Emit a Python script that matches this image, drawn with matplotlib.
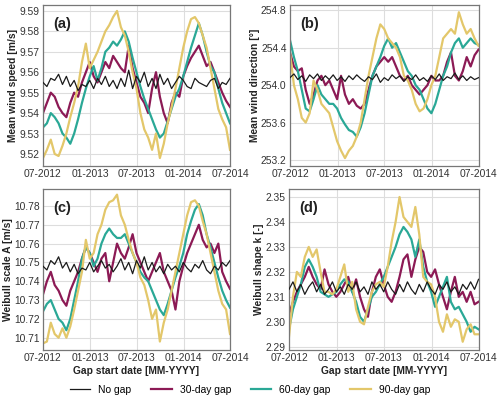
import numpy as np
import pandas as pd
import matplotlib
matplotlib.use("Agg")
import matplotlib.pyplot as plt
import matplotlib.dates as mdates

plt.rcParams['font.family'] = ['Liberation Sans', 'DejaVu Sans']

series_names = ["No gap", "30-day gap", "60-day gap", "90-day gap"]
colors = ["#1a1a1a", "#8c1a55", "#2aa896", "#e3c76a"]
widths = [0.9, 1.6, 1.6, 1.6]

# (a) Mean wind speed
black_a = [9.555, 9.553, 9.557, 9.556, 9.559, 9.554, 9.558, 9.553, 9.556, 9.551, 9.554, 9.553, 9.556,
           9.552, 9.557, 9.554, 9.558, 9.553, 9.556, 9.552, 9.557, 9.553, 9.561, 9.552, 9.558, 9.555,
           9.560, 9.553, 9.557, 9.552, 9.559, 9.554, 9.557, 9.552, 9.555, 9.558, 9.556, 9.553, 9.552,
           9.557, 9.555, 9.554, 9.553, 9.556, 9.557, 9.552, 9.555, 9.554, 9.557]
purple_a = [9.540, 9.545, 9.550, 9.548, 9.543, 9.540, 9.538, 9.545, 9.550, 9.548, 9.555, 9.560, 9.565,
            9.558, 9.555, 9.560, 9.565, 9.562, 9.568, 9.565, 9.562, 9.560, 9.573, 9.562, 9.555, 9.548,
            9.545, 9.540, 9.552, 9.560, 9.548, 9.540, 9.535, 9.545, 9.550, 9.548, 9.558, 9.563, 9.567,
            9.570, 9.573, 9.568, 9.563, 9.565, 9.560, 9.555, 9.550, 9.546, 9.543]
teal_a = [9.533, 9.535, 9.540, 9.538, 9.535, 9.530, 9.528, 9.525, 9.530, 9.537, 9.545, 9.552, 9.558,
          9.563, 9.556, 9.562, 9.570, 9.572, 9.575, 9.573, 9.576, 9.580, 9.575, 9.567, 9.560, 9.553,
          9.547, 9.542, 9.537, 9.532, 9.528, 9.530, 9.536, 9.542, 9.548, 9.552, 9.558, 9.565, 9.572,
          9.578, 9.584, 9.578, 9.570, 9.563, 9.560, 9.552, 9.545, 9.540, 9.535]
gold_a = [9.518, 9.522, 9.527, 9.520, 9.519, 9.524, 9.530, 9.538, 9.545, 9.553, 9.565, 9.574, 9.562,
          9.566, 9.570, 9.575, 9.580, 9.583, 9.587, 9.590, 9.582, 9.578, 9.570, 9.560, 9.552, 9.540,
          9.532, 9.528, 9.522, 9.530, 9.518, 9.525, 9.535, 9.543, 9.552, 9.562, 9.572, 9.580, 9.586,
          9.587, 9.584, 9.578, 9.572, 9.562, 9.552, 9.542, 9.537, 9.533, 9.522]

# (b) Mean wind direction
black_b = [254.08, 254.12, 254.06, 254.10, 254.04, 254.11, 254.07, 254.12, 254.05, 254.10, 254.06,
           254.11, 254.05, 254.09, 254.04, 254.10, 254.06, 254.11, 254.07, 254.04, 254.09, 254.06,
           254.12, 254.03, 254.08, 254.05, 254.11, 254.07, 254.10, 254.04, 254.09, 254.06, 254.11,
           254.05, 254.08, 254.04, 254.10, 254.06, 254.12, 254.05, 254.09, 254.07, 254.13, 254.06,
           254.10, 254.05, 254.09, 254.06, 254.08]
purple_b = [254.35, 254.20, 254.15, 254.18, 253.95, 253.80, 253.90, 254.05, 254.10, 254.00, 254.05,
            253.95, 253.85, 254.10, 253.90, 253.80, 253.85, 253.78, 253.75, 253.80, 253.95, 254.10,
            254.20, 254.25, 254.30, 254.25, 254.30, 254.20, 254.10, 254.05, 254.10, 254.00, 253.95,
            253.90, 253.95, 254.00, 254.10, 254.05, 254.05, 254.10, 254.25, 254.35, 254.10, 254.05,
            254.15, 254.30, 254.20, 254.32, 254.38]
teal_b = [254.48, 254.30, 254.15, 253.95, 253.75, 253.72, 253.85, 254.00, 253.90, 253.85, 253.80,
          253.80, 253.75, 253.65, 253.58, 253.52, 253.50, 253.45, 253.55, 253.70, 253.90, 254.10,
          254.20, 254.30, 254.42, 254.50, 254.40, 254.45, 254.35, 254.25, 254.15, 254.10, 254.00,
          253.95, 253.85, 253.75, 253.70, 253.80, 253.95, 254.10, 254.20, 254.35, 254.45, 254.50,
          254.40, 254.45, 254.50, 254.45, 254.43]
gold_b = [254.35, 254.00, 253.85, 253.65, 253.60, 253.70, 254.05, 253.95, 253.80, 253.75, 253.70,
          253.55, 253.40, 253.30, 253.22, 253.30, 253.35, 253.45, 253.60, 253.85, 254.10, 254.30,
          254.50, 254.65, 254.60, 254.50, 254.45, 254.40, 254.30, 254.10, 254.05, 253.95, 253.80,
          253.72, 253.75, 253.85, 254.00, 254.10, 254.30, 254.50, 254.55, 254.60, 254.55, 254.78,
          254.65, 254.55, 254.60, 254.50, 254.42]

# (c) Weibull scale A
black_c = [10.748, 10.746, 10.751, 10.749, 10.753, 10.747, 10.750, 10.745, 10.749, 10.744, 10.747,
           10.746, 10.750, 10.745, 10.748, 10.751, 10.747, 10.749, 10.745, 10.748, 10.752, 10.746,
           10.750, 10.744, 10.751, 10.747, 10.753, 10.746, 10.750, 10.745, 10.748, 10.744, 10.749,
           10.746, 10.748, 10.745, 10.750, 10.747, 10.745, 10.749, 10.747, 10.751, 10.746, 10.744,
           10.748, 10.746, 10.750, 10.748, 10.751]
purple_c = [10.733, 10.740, 10.745, 10.738, 10.735, 10.730, 10.727, 10.735, 10.740, 10.745, 10.752,
            10.758, 10.755, 10.750, 10.745, 10.752, 10.755, 10.740, 10.750, 10.760, 10.755, 10.752,
            10.758, 10.765, 10.755, 10.750, 10.745, 10.740, 10.745, 10.750, 10.755, 10.745, 10.740,
            10.735, 10.725, 10.740, 10.748, 10.755, 10.760, 10.765, 10.770, 10.762, 10.758, 10.760,
            10.755, 10.760, 10.745, 10.740, 10.736]
teal_c = [10.724, 10.728, 10.730, 10.725, 10.720, 10.718, 10.714, 10.720, 10.730, 10.740, 10.752,
          10.758, 10.755, 10.748, 10.752, 10.760, 10.765, 10.768, 10.765, 10.763, 10.763, 10.765,
          10.760, 10.755, 10.750, 10.745, 10.742, 10.740, 10.735, 10.730, 10.725, 10.722, 10.728,
          10.735, 10.742, 10.748, 10.755, 10.765, 10.772, 10.778, 10.781, 10.775, 10.765, 10.758,
          10.750, 10.742, 10.735, 10.730, 10.726]
gold_c = [10.707, 10.708, 10.718, 10.712, 10.710, 10.715, 10.710, 10.716, 10.725, 10.735, 10.745,
          10.762, 10.752, 10.755, 10.765, 10.770, 10.778, 10.782, 10.783, 10.786, 10.775, 10.770,
          10.762, 10.755, 10.750, 10.742, 10.738, 10.730, 10.720, 10.725, 10.708, 10.718, 10.725,
          10.735, 10.745, 10.755, 10.765, 10.775, 10.782, 10.783, 10.780, 10.772, 10.765, 10.755,
          10.745, 10.735, 10.728, 10.725, 10.712]

# (d) Weibull shape k
black_d = [2.313, 2.316, 2.312, 2.315, 2.311, 2.314, 2.316, 2.312, 2.315, 2.311, 2.313, 2.316,
           2.312, 2.314, 2.311, 2.315, 2.313, 2.316, 2.312, 2.314, 2.311, 2.316, 2.313, 2.315,
           2.312, 2.316, 2.313, 2.311, 2.315, 2.312, 2.316, 2.313, 2.311, 2.315, 2.312, 2.316,
           2.313, 2.311, 2.315, 2.313, 2.316, 2.312, 2.314, 2.311, 2.315, 2.313, 2.316, 2.313, 2.317]
purple_d = [2.303, 2.308, 2.312, 2.315, 2.318, 2.322, 2.318, 2.315, 2.313, 2.321, 2.315, 2.312,
            2.310, 2.312, 2.315, 2.318, 2.312, 2.317, 2.310, 2.305, 2.302, 2.312, 2.318, 2.321,
            2.315, 2.310, 2.308, 2.312, 2.318, 2.325, 2.327, 2.318, 2.325, 2.330, 2.328, 2.320,
            2.318, 2.321, 2.315, 2.310, 2.305, 2.312, 2.318, 2.310, 2.312, 2.308, 2.312, 2.307, 2.308]
teal_d = [2.297, 2.305, 2.310, 2.315, 2.322, 2.325, 2.322, 2.318, 2.312, 2.311, 2.310, 2.311,
          2.312, 2.315, 2.317, 2.316, 2.312, 2.308, 2.302, 2.300, 2.305, 2.310, 2.312, 2.315,
          2.318, 2.322, 2.326, 2.330, 2.335, 2.338, 2.336, 2.333, 2.326, 2.333, 2.322, 2.316,
          2.312, 2.306, 2.310, 2.314, 2.318, 2.308, 2.305, 2.306, 2.303, 2.300, 2.296, 2.298, 2.297]
gold_d = [2.294, 2.310, 2.320, 2.318, 2.326, 2.330, 2.326, 2.329, 2.320, 2.312, 2.312, 2.311,
          2.313, 2.318, 2.323, 2.312, 2.316, 2.305, 2.300, 2.299, 2.306, 2.312, 2.315, 2.316,
          2.314, 2.322, 2.332, 2.340, 2.350, 2.342, 2.340, 2.338, 2.346, 2.335, 2.318, 2.316,
          2.315, 2.310, 2.300, 2.296, 2.303, 2.298, 2.301, 2.300, 2.292, 2.297, 2.299, 2.295, 2.295]

panels = [
    ("(a)", "Mean wind speed [m/s]", [black_a, purple_a, teal_a, gold_a],
     (9.5143, 9.5929), [9.52, 9.53, 9.54, 9.55, 9.56, 9.57, 9.58, 9.59], "{:.2f}"),
    ("(b)", "Mean wind direction [°]", [black_b, purple_b, teal_b, gold_b],
     (253.14, 254.857), [253.2, 253.6, 254.0, 254.4, 254.8], "{:.1f}"),
    ("(c)", "Weibull scale A [m/s]", [black_c, purple_c, teal_c, gold_c],
     (10.7035, 10.789), [10.71, 10.72, 10.73, 10.74, 10.75, 10.76, 10.77, 10.78], "{:.2f}"),
    ("(d)", "Weibull shape k [-]", [black_d, purple_d, teal_d, gold_d],
     (2.2887, 2.3532), [2.29, 2.30, 2.31, 2.32, 2.33, 2.34, 2.35], "{:.2f}"),
]

start = pd.Timestamp("2012-07-01")
end = pd.Timestamp("2014-07-01")
xticks = pd.to_datetime(["2012-07-01", "2013-01-01", "2013-07-01", "2014-01-01", "2014-07-01"])

fig = plt.figure(figsize=(5, 4), dpi=100)
rects = [
    [0.086, 0.586, 0.374, 0.4015],
    [0.580, 0.586, 0.377, 0.4015],
    [0.086, 0.125, 0.374, 0.4025],
    [0.578, 0.125, 0.379, 0.4025],
]
label_x = [-0.135, -0.16, -0.158, -0.13]

lines = []
for k, (lab, ylab, data, ylim, yt, fmt) in enumerate(panels):
    ax = fig.add_axes(rects[k])
    for vals, c, lw, name in zip(data, colors, widths, series_names):
        dates = pd.date_range(start, end, periods=len(vals))
        ln, = ax.plot(dates, vals, color=c, lw=lw, label=name, zorder=3 if lw < 1 else 2)
        if k == 0:
            lines.append(ln)
    ax.set_xlim(start, end)
    ax.set_ylim(*ylim)
    ax.set_yticks(yt)
    ax.set_yticklabels([fmt.format(v) for v in yt])
    ax.set_xticks(xticks)
    ax.xaxis.set_major_formatter(mdates.DateFormatter("%m-%Y"))
    ax.grid(True, color="#dddddd", lw=0.8)
    ax.set_axisbelow(True)
    for s in ax.spines.values():
        s.set_color("#777777")
        s.set_linewidth(0.9)
    ax.tick_params(length=0, labelsize=7.4, colors="#333333", pad=2.5)
    ax.set_ylabel(ylab, fontsize=7.4, fontweight="bold", color="#222222")
    ax.yaxis.set_label_coords(label_x[k], 0.5)
    if k >= 2:
        ax.set_xlabel("Gap start date [MM-YYYY]", fontsize=7.4, fontweight="bold",
                      color="#222222", labelpad=1.5)
    ax.text(0.055, 0.925, lab, transform=ax.transAxes, fontsize=10.5, fontweight="bold",
            va="top", ha="left", color="#222222")

fig.legend(lines, series_names, loc="center", bbox_to_anchor=(0.5, 0.025), ncol=4,
           frameon=False, fontsize=7.4, handlelength=2.0, columnspacing=1.9,
           handletextpad=0.8)

fig.savefig("out.png", dpi=100)
